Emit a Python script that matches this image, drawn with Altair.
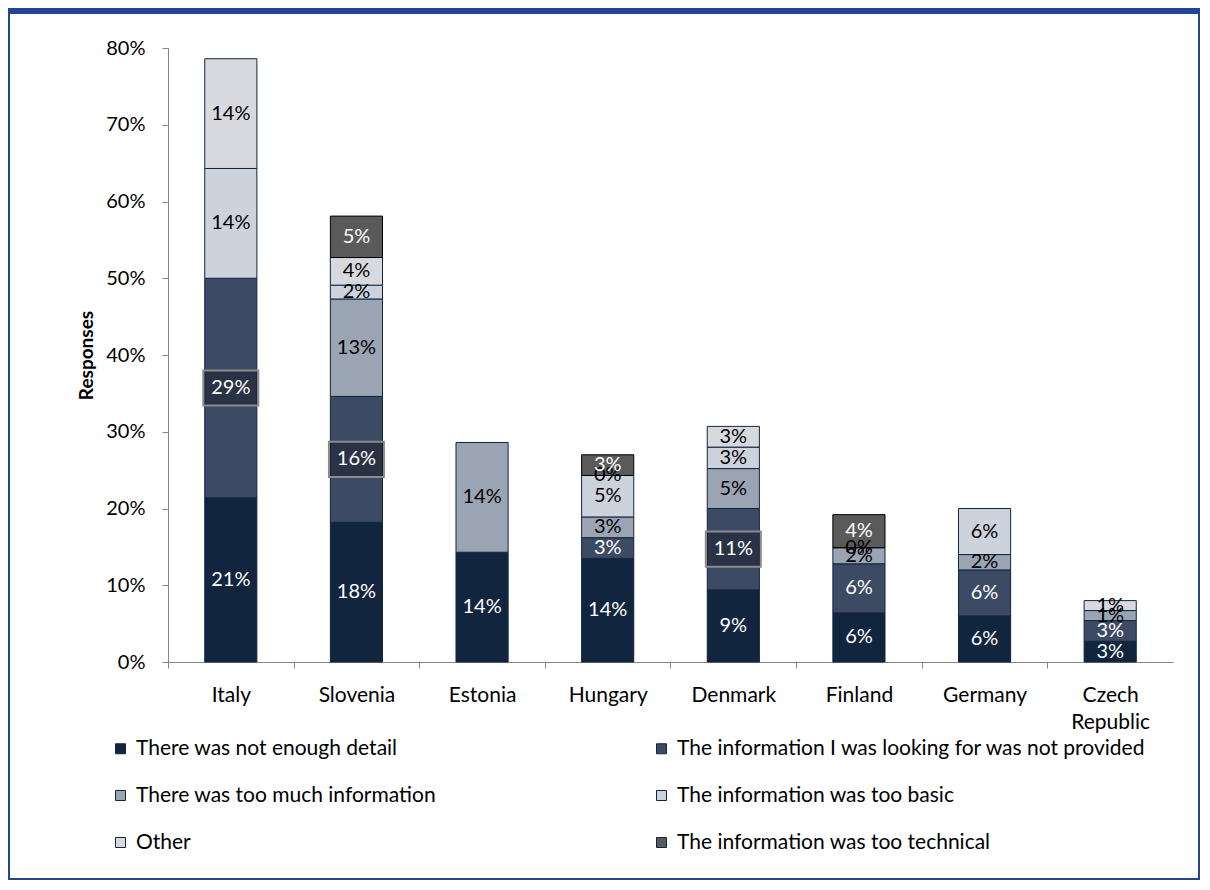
import altair as alt
import pandas as pd

countries = ["Italy", "Slovenia", "Estonia", "Hungary", "Denmark", "Finland", "Germany", "Czech Republic"]
categories = [
    "There was not enough detail",
    "The information I was looking for was not provided",
    "There was too much information",
    "The information was too basic",
    "Other",
    "The information was too technical",
]
not_enough = [21.4, 18.2, 14.3, 13.5, 9.4, 6.4, 6.0, 2.7]
not_provided = [28.6, 16.4, None, 2.7, 10.6, 6.4, 6.0, 2.7]
too_much = [None, 12.7, 14.3, 2.7, 5.2, 2.1, 2.0, 1.3]
too_basic = [14.3, 1.8, None, 5.4, 2.8, 0.0, 6.0, None]
other = [14.3, 3.6, None, 0.0, 2.7, None, None, 1.3]
too_technical = [None, 5.4, None, 2.7, None, 4.3, None, None]
series = [not_enough, not_provided, too_much, too_basic, other, too_technical]

colors = ["#12253f", "#3c4a64", "#9ba4b3", "#cdd3dd", "#d7d9de", "#5a5a5a"]
label_colors = ["white", "white", "black", "black", "black", "white"]
boxed_labels = [("Italy", 1), ("Slovenia", 1), ("Denmark", 1)]
y_ticks = [0, 10, 20, 30, 40, 50, 60, 70, 80]

rows = []
for ci, c in enumerate(countries):
    for si, s in enumerate(series):
        v = s[ci]
        if v is None:
            continue
        rows.append(dict(country=c, cat=categories[si], order=si, value=v,
                         lc=label_colors[si], boxed=(c, si) in boxed_labels))
df = pd.DataFrame(rows)

FONT = "Lato"

base = alt.Chart(df).transform_stack(
    stack="value", as_=["y0", "y1"], groupby=["country"],
    sort=[alt.SortField("order", order="ascending")]
).transform_calculate(
    mid="(datum.y0 + datum.y1) / 2",
    label="round(datum.value) + '%'"
)

x_enc = alt.X(
    "country:N", sort=countries, title=None,
    scale=alt.Scale(paddingInner=0.585, paddingOuter=0.2925),
    axis=alt.Axis(
        labelAngle=0, labelFont=FONT, labelFontSize=21, labelColor="#000",
        labelExpr="datum.label == 'Czech Republic' ? ['Czech', 'Republic'] : datum.label",
        labelLineHeight=27, labelPadding=16, labelBaseline="top",
        domainColor="#868686", tickColor="#868686", tickSize=6,
        bandPosition=0, tickOffset=-36.8, labelOffset=36.8,
    ),
)
y_scale = alt.Scale(domain=[0, 80], nice=False)

bars = base.mark_bar(strokeWidth=1).encode(
    x=x_enc,
    y=alt.Y("y0:Q", scale=y_scale, axis=alt.Axis(
        values=y_ticks, labelExpr="datum.value + '%'", grid=False,
        labelFont=FONT, labelFontSize=20, labelColor="#000", labelPadding=17,
        domainColor="#868686", tickColor="#868686", tickSize=6,
        title="Responses", titleFont=FONT, titleFontSize=19, titleFontWeight="bold",
        titleColor="#000", titleAngle=270, titleX=-82, titleY=307,
        titleAlign="center", titleBaseline="middle",
    )),
    y2="y1:Q",
    color=alt.Color("cat:N", scale=alt.Scale(domain=categories, range=colors),
                    legend=alt.Legend(
                        title=None, orient="none", legendX=-58, legendY=690,
                        direction="horizontal", columns=2, columnPadding=214,
                        rowPadding=25, symbolType="square", symbolSize=100,
                        symbolStrokeColor="#12253f", symbolStrokeWidth=1,
                        labelFont=FONT, labelFontSize=21, labelColor="#000",
                        labelOffset=5, labelLimit=700,
                    )),
    stroke=alt.condition("datum.order == 5", alt.value("#000000"), alt.value("#12253f")),
)

boxes = base.transform_filter("datum.boxed").mark_point(
    shape="M -1 -0.64 L 1 -0.64 L 1 0.64 L -1 0.64 Z", size=3025,
    filled=True, fill="#000000", fillOpacity=0.3, stroke="#8c8c8c",
    strokeWidth=2, strokeOpacity=1, opacity=1,
).encode(x=alt.X("country:N", sort=countries), y=alt.Y("mid:Q", scale=y_scale))

texts = base.mark_text(font=FONT, fontSize=20, baseline="middle").encode(
    x=alt.X("country:N", sort=countries),
    y=alt.Y("mid:Q", scale=y_scale),
    text="label:N",
    color=alt.Color("lc:N", scale=None),
)

frame_df = pd.DataFrame({"k": [0]})
frame = alt.Chart(frame_df).mark_rect(fill="transparent", stroke="#24468f", strokeWidth=2).encode(
    x=alt.value(-159), x2=alt.value(1031), y=alt.value(-39), y2=alt.value(831)
)
band = alt.Chart(frame_df).mark_rect(fill="#24468f").encode(
    x=alt.value(-160), x2=alt.value(1032), y=alt.value(-40), y2=alt.value(-34)
)

chart = alt.layer(bars, boxes, texts, frame, band).properties(
    width=1005, height=614,
    padding={"left": 160, "top": 40, "right": 27, "bottom": 218},
    autosize=alt.AutoSizeParams(type="none"),
).configure_view(stroke=None)

chart.save("out.html", embed_options={"renderer": "svg", "actions": False})
